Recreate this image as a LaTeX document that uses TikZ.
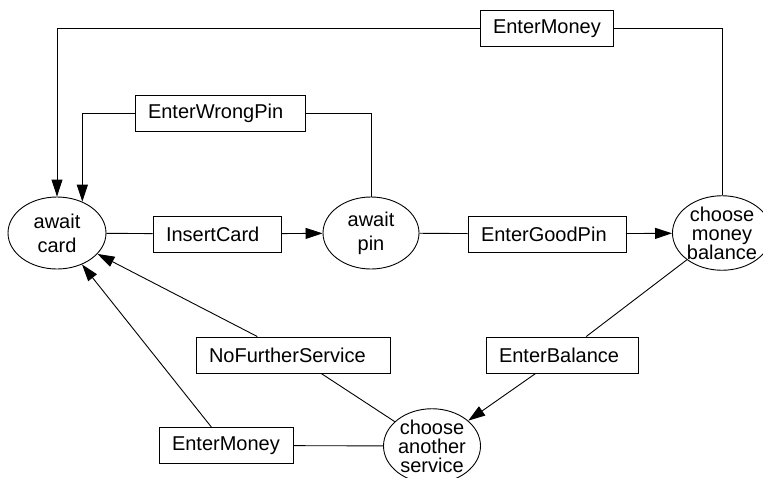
\documentclass[tikz,border=0pt]{standalone}
\usepackage{fontspec}
\setmainfont{Liberation Sans}
\usepackage{tikz}
\usetikzlibrary{arrows.meta, shapes.geometric}

\begin{document}
\begin{tikzpicture}[x=1pt, y=-1pt, line width=0.9pt, >={Triangle[length=17pt, width=11pt]},
    state/.style={ellipse, draw, inner sep=0pt, minimum width=98pt, minimum height=72pt, align=center, font=\fontsize{20}{24}\selectfont},
    tight/.style={font=\fontsize{20}{19}\selectfont},
    event/.style={rectangle, draw, minimum height=36pt, inner xsep=13pt, align=left, font=\fontsize{20}{24}\selectfont}]
    %\draw[step=50pt, gray, very thin] (0,0) grid (763,477);
    \useasboundingbox (0,0) rectangle (763,477);

    \node[state] (awaitcard) at (57,233) {await\\card};
    \node[state, minimum width=96pt] (awaitpin) at (371,233) {await\\pin};
    \node[state, tight] (choosemb) at (722,233) {choose\\money\\balance};
    \node[state, tight, minimum width=97pt] (chooseas) at (432,446) {choose\\another\\service};

    \node[event, text width=107pt] (entermoneytop) at (546.5,28.5) {EnterMoney};
    \node[event, text width=144pt] (enterwrongpin) at (220,113) {EnterWrongPin};
    \node[event, text width=102pt] (insertcard) at (217,234) {InsertCard};
    \node[event, text width=132pt] (entergoodpin) at (547,234) {EnterGoodPin};
    \node[event, text width=168pt] (nofurther) at (293,355) {NoFurtherService};
    \node[event, text width=126pt] (enterbalance) at (562,355) {EnterBalance};
    \node[event, text width=108pt] (entermoneybot) at (226,445.5) {EnterMoney};

    \draw (choosemb.north) |- (entermoneytop.east);
    \draw[->] (entermoneytop.west) -| (awaitcard.north);
    \draw (awaitpin.north) |- (enterwrongpin.east);
    \draw[->] (enterwrongpin.west) -| (awaitcard.51);

    \draw (awaitcard) -- (insertcard);
    \draw[->] (insertcard) -- (awaitpin);
    \draw (awaitpin) -- (entergoodpin);
    \draw[->] (entergoodpin) -- (choosemb);

    \draw (choosemb) -- (enterbalance);
    \draw[->] (enterbalance) -- (chooseas);
    \draw (chooseas) -- (nofurther);
    \draw[->] (nofurther) -- (awaitcard);
    \draw (chooseas) -- (entermoneybot);
    \draw[->] (entermoneybot) -- (awaitcard);

\end{tikzpicture}
\end{document}
